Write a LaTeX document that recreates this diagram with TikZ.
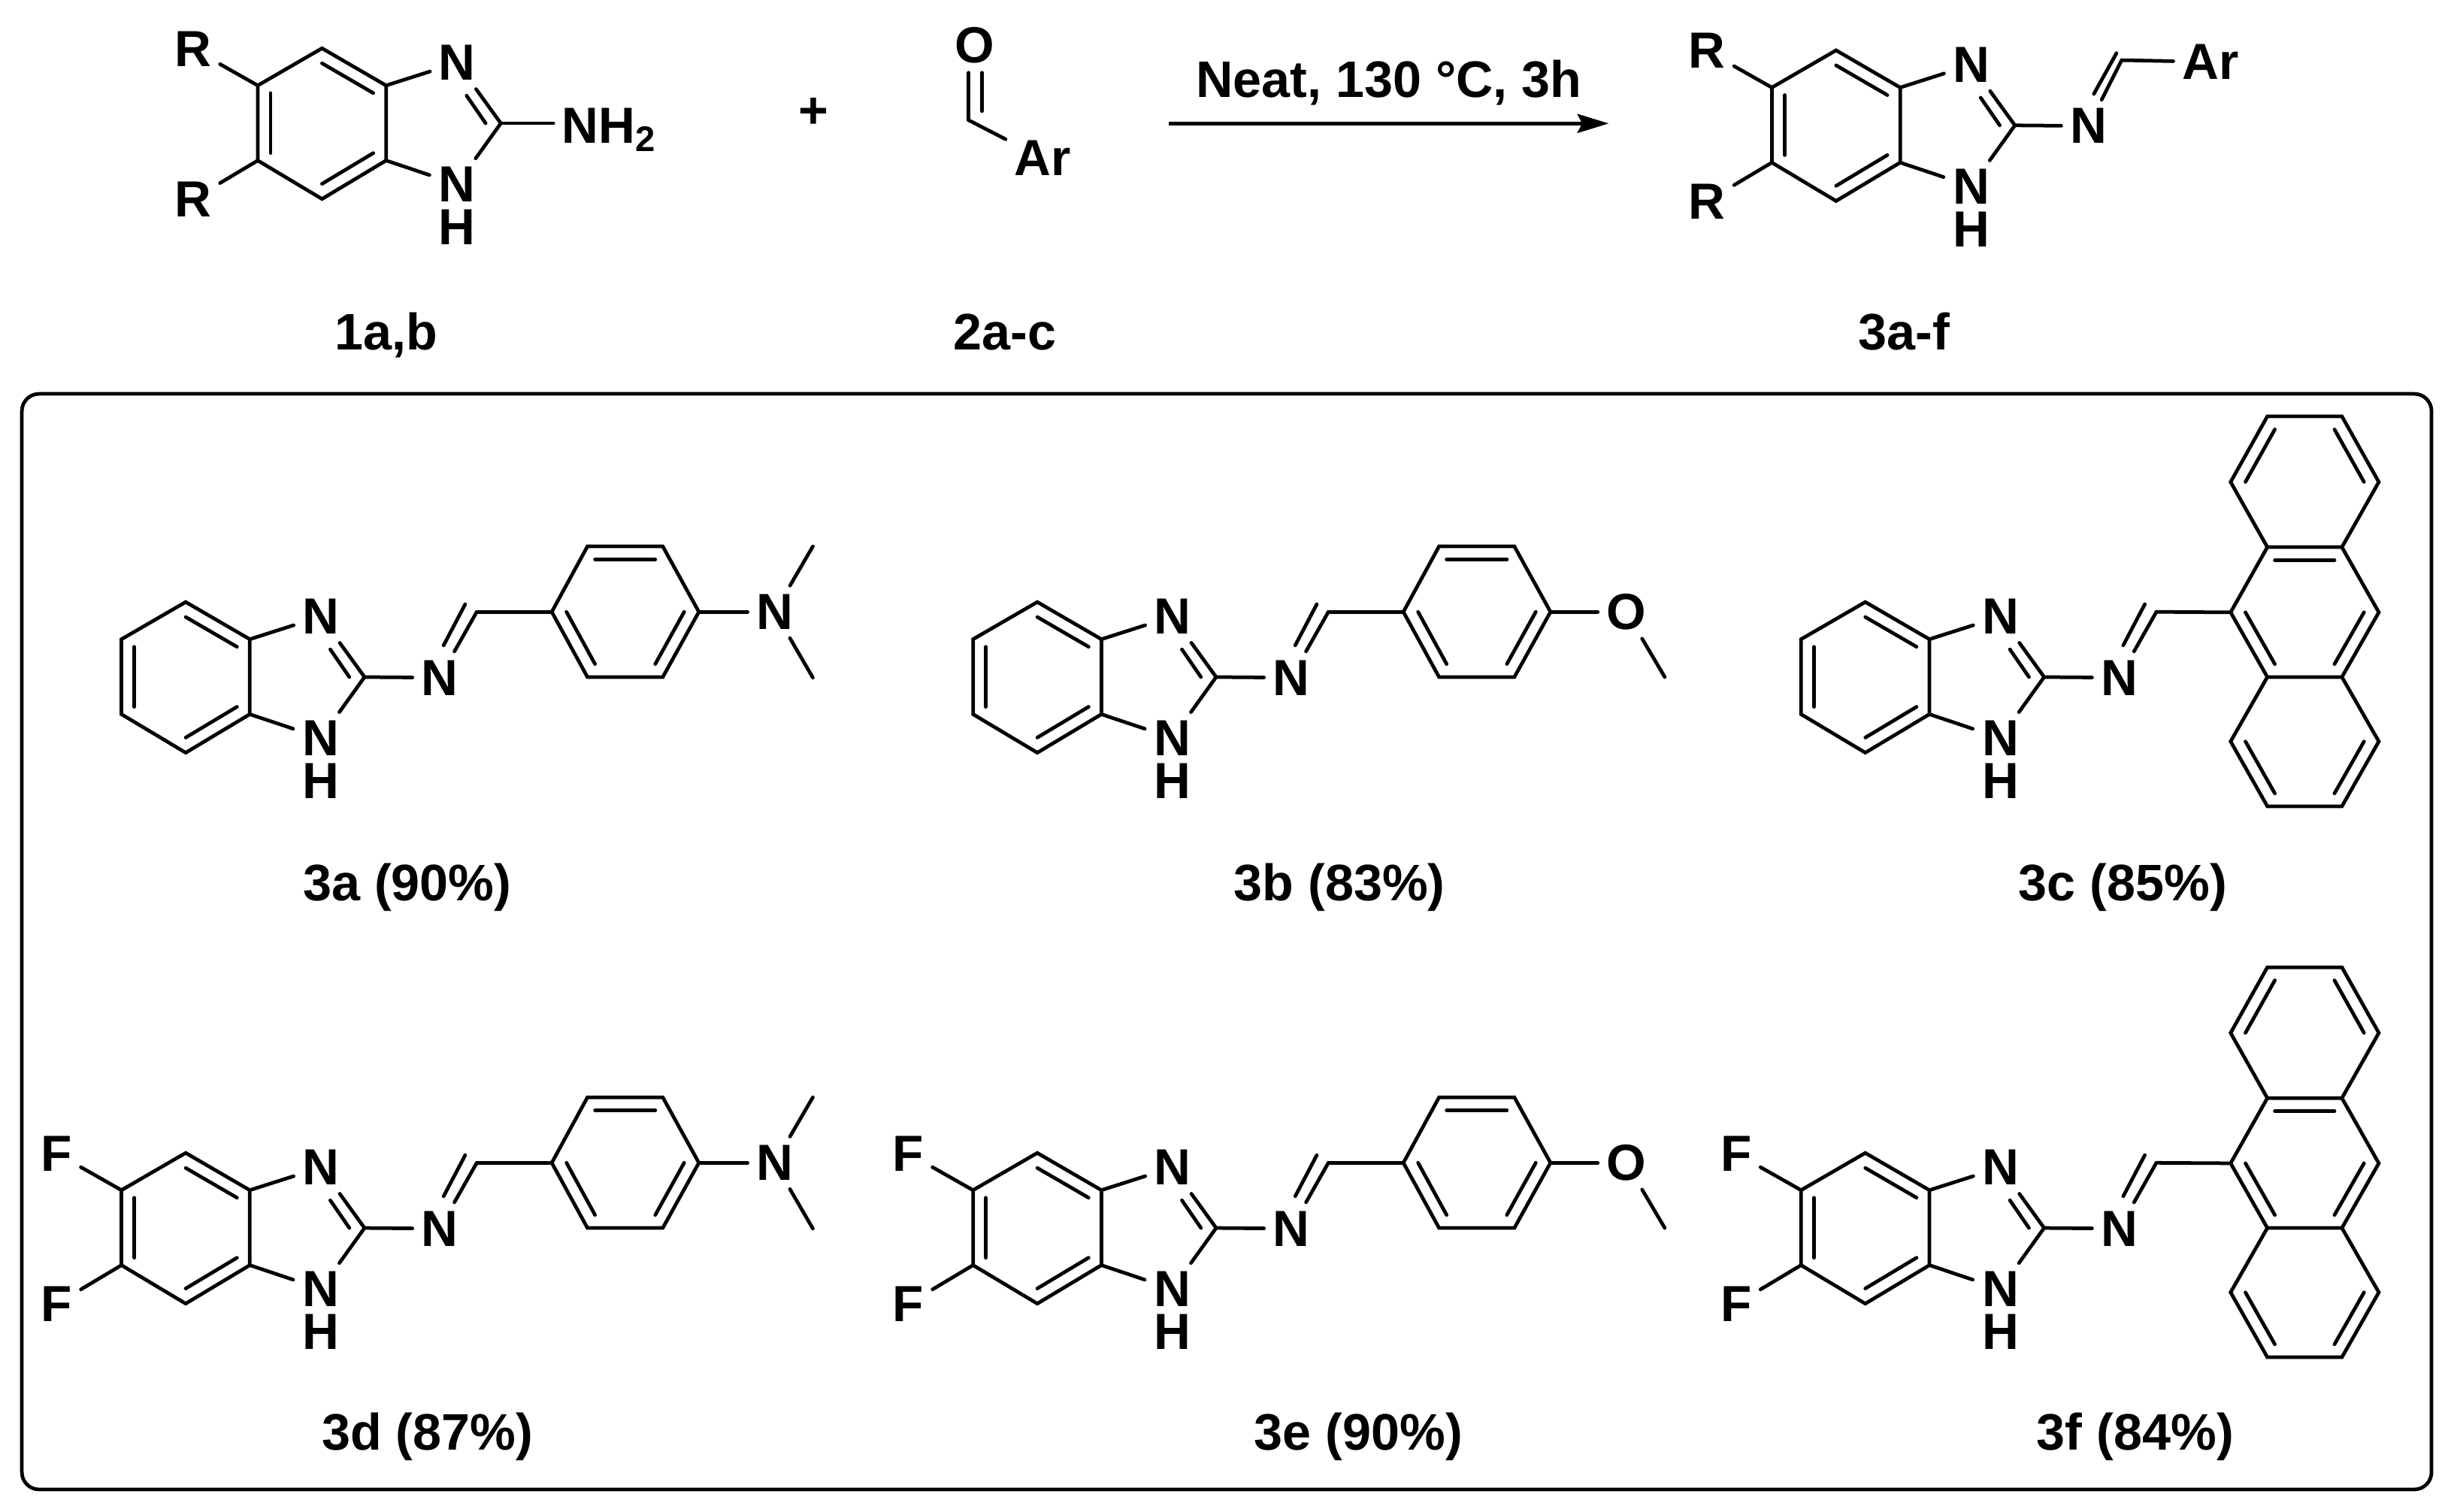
\documentclass[tikz,border=0pt]{standalone}
\usepackage{fontspec}
\setmainfont{Liberation Sans}
\usetikzlibrary{calc,arrows.meta}
\tikzset{
bond/.style={draw=black, line width=1.3pt, line cap=round, line join=miter},
atom/.style={inner sep=3pt, font=\fontsize{18.5pt}{20pt}\bfseries\selectfont},
tag/.style={inner sep=0pt, anchor=base, font=\fontsize{18.7pt}{20pt}\bfseries\selectfont}
}
\newcommand{\ringbond}[3]{\draw [bond] ($(#1)!.2!(#3)$)--($(#2)!.2!(#3)$);}
\newcommand{\core}[3]{
\begin{scope}[shift={(#2,#3)}]
\coordinate (#1T) at (-114.4,-48);
\coordinate (#1UL) at (-155.5,-24.2);
\coordinate (#1LL) at (-155.5,23.8);
\coordinate (#1B) at (-114.4,48.4);
\coordinate (#1LR) at (-73.4,23.8);
\coordinate (#1UR) at (-73.4,-24.2);
\coordinate (#1O) at (-114.4,0);
\coordinate (#1X) at (0,0);
\draw (-28,-38.7) node[atom](#1N){N}
(-28,39) node[atom, inner sep=1pt](#1M){N}
(-28,66.4) node[atom, inner sep=0pt](#1H){H};
\draw [bond] (#1T)--(#1UL)--(#1LL)--(#1B)--(#1LR)--(#1UR)--cycle;
\draw [bond] (#1UR)--(#1N);
\draw [bond, shorten >=2.3pt] (#1LR)--(#1M);
\draw [bond] (#1X)--(#1N);
\draw [bond, shorten >=2.3pt] (#1X)--(#1M);
\draw [bond] (-9.7,0)--(-21.9,-17.7);
\ringbond{#1T}{#1UR}{#1O}
\ringbond{#1UL}{#1LL}{#1O}
\ringbond{#1B}{#1LR}{#1O}
\end{scope}}
\newcommand{\subs}[4]{
\begin{scope}[shift={(#2,#3)}]
\draw (-197,-47.7) node[atom](#1S){#4}
(-197,48.6) node[atom](#1Z){#4};
\draw [bond] (#1UL)--(#1S);
\draw [bond] (#1LL)--(#1Z);
\end{scope}}
\newcommand{\imine}[3]{
\begin{scope}[shift={(#2,#3)}]
\draw (48,0.4) node[atom](#1E){N};
\coordinate (#1CH) at (71.8,-41.7);
\draw [bond] (#1X)--(#1E);
\draw [bond] (#1CH)--(#1E);
\draw [bond] (64.4,-46.6)--(50.6,-20.3);
\end{scope}}
\newcommand{\aryl}[3]{
\begin{scope}[shift={(#2,#3)}]
\coordinate (#1I) at (119.8,-41.7);
\coordinate (#1TL) at (142.6,-83.6);
\coordinate (#1TR) at (190.8,-83.6);
\coordinate (#1P) at (213.9,-41.7);
\coordinate (#1BR) at (190.8,0);
\coordinate (#1BL) at (142.6,0);
\coordinate (#1Q) at (166.8,-41.7);
\draw [bond] (#1I)--(#1TL)--(#1TR)--(#1P)--(#1BR)--(#1BL)--cycle;
\draw [bond] (#1CH)--(#1I);
\ringbond{#1TL}{#1TR}{#1Q}
\ringbond{#1I}{#1BL}{#1Q}
\ringbond{#1P}{#1BR}{#1Q}
\end{scope}}
\newcommand{\amine}[3]{
\begin{scope}[shift={(#2,#3)}]
\draw (262.4,-41.7) node[atom](#1A){N};
\coordinate (#1U) at (286.8,-83.6);
\coordinate (#1D) at (286.8,0.4);
\draw [bond] (#1P)--(#1A);
\draw [bond] (#1A)--(#1U);
\draw [bond] (#1A)--(#1D);
\end{scope}}
\newcommand{\ether}[3]{
\begin{scope}[shift={(#2,#3)}]
\draw (262.4,-41.7) node[atom](#1A){O};
\coordinate (#1D) at (287,0);
\draw [bond] (#1P)--(#1A);
\draw [bond] (#1A)--(#1D);
\end{scope}}
\newcommand{\anth}[3]{
\begin{scope}[shift={(#2,#3)}]
\coordinate (#1I) at (119.3,-41.4);
\coordinate (#1A1) at (142.8,-83.1);
\coordinate (#1A2) at (190.5,-83.1);
\coordinate (#1A3) at (214.1,-41.4);
\coordinate (#1A4) at (190.5,0);
\coordinate (#1A5) at (142.8,0);
\coordinate (#1Q) at (166.7,-41.5);
\coordinate (#1U1) at (119.3,-124.8);
\coordinate (#1U2) at (142.8,-166.8);
\coordinate (#1U3) at (190.5,-166.8);
\coordinate (#1U4) at (214.1,-124.8);
\coordinate (#1UQ) at (166.7,-125);
\coordinate (#1L1) at (119.3,41.2);
\coordinate (#1L2) at (142.8,82.7);
\coordinate (#1L3) at (190.5,82.7);
\coordinate (#1L4) at (214.1,41.2);
\coordinate (#1LQ) at (166.7,41.4);
\draw [bond] (#1I)--(#1A1)--(#1A2)--(#1A3)--(#1A4)--(#1A5)--cycle;
\draw [bond] (#1A1)--(#1U1)--(#1U2)--(#1U3)--(#1U4)--(#1A2);
\draw [bond] (#1A5)--(#1L1)--(#1L2)--(#1L3)--(#1L4)--(#1A4);
\draw [bond] (#1CH)--(#1I);
\ringbond{#1A1}{#1A2}{#1Q}
\ringbond{#1I}{#1A5}{#1Q}
\ringbond{#1A3}{#1A4}{#1Q}
\ringbond{#1U1}{#1U2}{#1UQ}
\ringbond{#1U3}{#1U4}{#1UQ}
\ringbond{#1L1}{#1L2}{#1LQ}
\ringbond{#1L3}{#1L4}{#1LQ}
\end{scope}}
\begin{document}
\begin{tikzpicture}[x=0.02cm, y=-0.02cm]
\useasboundingbox (0,0) rectangle (1568,967);
\core{P}{320.4}{78.9}
\subs{P}{320.4}{78.9}{R}
\draw (354,91.4) node[atom, anchor=base west](NH){NH\textsubscript{2}};
\draw [bond] (PX)--(NH.west|-PX);
\draw (520.5,82) node[tag](PL){+};
\draw (623.7,28.9) node[atom, inner sep=0pt](O){O}
(667,101.3) node[atom](AR){Ar};
\coordinate (CA) at (619.7,76.9);
\coordinate (O1) at (619.7,46.5);
\coordinate (O2) at (628.3,46.5);
\coordinate (C2) at (628.3,71.1);
\draw [bond] (CA)--(O1);
\draw [bond] (C2)--(O2);
\draw [bond] (CA)--(AR);
\coordinate (AS) at (747.6,79);
\coordinate (AE) at (1029.2,79);
\draw [draw=black, line width=1.5pt] [-{Stealth[length=20*0.02cm, width=12*0.02cm, inset=3*0.02cm]}] (AS)--(AE);
\draw (888.5,62.5) node[tag](NC){Neat, 130 °C, 3h};
\core{Q}{1289}{80.2}
\subs{Q}{1289}{80.2}{R}
\draw (1336,80.6) node[atom](QE){N}
(1414,39.6) node[atom](QA){Ar};
\coordinate (QCH) at (1357.3,38.5);
\draw [bond] (QX)--(QE);
\draw [bond] (QCH)--(QE);
\draw [bond] (QCH)--(QA);
\draw [bond] (1354,34)--(1339.5,60.1);
\draw (247,223.6) node[tag](L1){1a,b}
(643,223.6) node[tag](L2){2a-c}
(1218,223.6) node[tag](L3){3a-f};
\draw [draw=black, line width=1.3pt, rounded corners=0.22cm] (14,252) rectangle (1555.5,953);
\core{A}{233.2}{433.2}
\imine{A}{233.2}{433.2}
\aryl{A}{233.2}{433.2}
\amine{A}{233.2}{433.2}
\core{B}{778}{433.2}
\imine{B}{778}{433.2}
\aryl{B}{778}{433.2}
\ether{B}{778}{433.2}
\core{C}{1307.7}{433.2}
\imine{C}{1307.7}{433.2}
\anth{C}{1307.7}{433.2}
\core{D}{233.2}{785.7}
\subs{D}{233.2}{785.7}{F}
\imine{D}{233.2}{785.7}
\aryl{D}{233.2}{785.7}
\amine{D}{233.2}{785.7}
\core{E}{778}{785.7}
\subs{E}{778}{785.7}{F}
\imine{E}{778}{785.7}
\aryl{E}{778}{785.7}
\ether{E}{778}{785.7}
\core{G}{1307.7}{785.7}
\subs{G}{1307.7}{785.7}{F}
\imine{G}{1307.7}{785.7}
\anth{G}{1307.7}{785.7}
\draw (260.5,576.5) node[tag](LA){3a (90\%)}
(857,576.5) node[tag](LB){3b (83\%)}
(1358,576.5) node[tag](LC){3c (85\%)}
(273.5,927.6) node[tag](LD){3d (87\%)}
(869,927.6) node[tag](LE){3e (90\%)}
(1366,927.6) node[tag](LF){3f (84\%)};
\end{tikzpicture}
\end{document}
